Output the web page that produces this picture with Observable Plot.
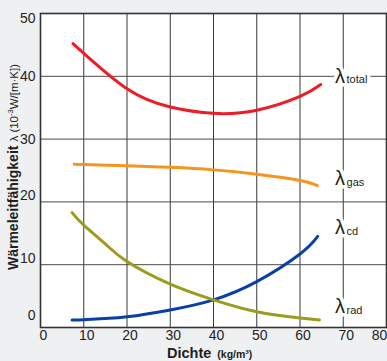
<!DOCTYPE html>
<html>
<head>
<meta charset="utf-8">
<script src="https://cdn.jsdelivr.net/npm/d3@7"></script>
<script src="https://cdn.jsdelivr.net/npm/@observablehq/plot@0.6"></script>
<style>
  html, body { margin: 0; padding: 0; background: #eff0f2; }
  #chart svg { display: block; }
</style>
</head>
<body>
<div id="chart"></div>
<script>
// Data
const totalX = [7.5, 20, 30, 40, 50, 60, 64.8];
const totalY = [45.2, 38.0, 35.1, 34.1, 34.6, 36.8, 38.7];
const gasX = [7.8, 10, 20, 30, 40, 50, 60, 64];
const gasY = [26.0, 25.95, 25.75, 25.5, 25.1, 24.4, 23.4, 22.6];
const cdX = [7.3, 10, 15, 20, 30, 40, 50, 60, 64.1];
const cdY = [1.2, 1.25, 1.45, 1.7, 2.8, 4.4, 7.3, 11.7, 14.5];
const radX = [7.3, 10, 15, 20, 30, 40, 50, 60, 64.5];
const radY = [18.3, 16.3, 13.3, 10.5, 6.9, 4.4, 2.5, 1.5, 1.2];

const xTicks = [0, 10, 20, 30, 40, 50, 60, 70, 80];
const yTicks = [0, 10, 20, 30, 40, 50];
const gridX = [10, 20, 30, 40, 50, 60, 70];
const gridY = [10, 20, 30, 40];

const labelNames = ["total", "gas", "cd", "rad"];
const labelX = [68.1, 68.1, 68.1, 68.1];
const labelY = [40, 23.7, 15.9, 3.3];

const zip = (xs, ys) => xs.map((x, i) => ({x, y: ys[i]}));
const series = [
  {data: zip(totalX, totalY), color: "#ee1d25"},
  {data: zip(gasX, gasY), color: "#f7941d"},
  {data: zip(cdX, cdY), color: "#0a3fa3"},
  {data: zip(radX, radY), color: "#9b9b1c"}
];
const labels = labelNames.map((n, i) => ({n, x: labelX[i], y: labelY[i]}));

const font = "'Liberation Sans', Arial, Helvetica, sans-serif";
const ink = "#231f20";

const plot = Plot.plot({
  width: 387,
  height: 361,
  marginLeft: 40,
  marginRight: 1,
  marginTop: 13,
  marginBottom: 34,
  style: {fontFamily: font, background: "transparent", overflow: "visible"},
  x: {domain: [0, 80], axis: null},
  y: {domain: [0, 50], axis: null},
  marks: [
    Plot.frame({fill: "white", stroke: "none"}),
    Plot.ruleX(gridX, {stroke: "#3a3a3a", strokeWidth: 1}),
    Plot.ruleY(gridY, {stroke: "#4a4a4a", strokeWidth: 1}),
    ...series.map(s => Plot.line(s.data, {x: "x", y: "y", stroke: s.color, strokeWidth: 3, curve: "natural"})),
    Plot.frame({stroke: "#333", strokeWidth: 1.6}),
    // y tick labels
    Plot.text(yTicks.filter(d => d === 50), {x: 0, y: d => d, text: d => String(d), textAnchor: "end", dx: -5, dy: 5, fontSize: 14, fill: ink}),
    Plot.text(yTicks.filter(d => d === 30 || d === 40), {x: 0, y: d => d, text: d => String(d), textAnchor: "end", dx: -5, dy: 0, fontSize: 14, fill: ink}),
    Plot.text(yTicks.filter(d => d === 10 || d === 20), {x: 0, y: d => d, text: d => String(d), textAnchor: "end", dx: -5, dy: -6, fontSize: 14, fill: ink}),
    Plot.text(yTicks.filter(d => d === 0), {x: 0, y: d => d, text: d => String(d), textAnchor: "end", dx: -5, dy: -12, fontSize: 14, fill: ink}),
    // x tick labels
    Plot.text(xTicks.filter(d => d < 80), {x: d => d, y: 0, text: d => String(d), lineAnchor: "top", dx: 3, dy: 3, fontSize: 14, fill: ink}),
    Plot.text(xTicks.filter(d => d === 80), {x: d => d, y: 0, text: d => String(d), lineAnchor: "top", dx: -7, dy: 3, fontSize: 14, fill: ink}),
    // curve labels: lambda + subscript with white halo
    Plot.text(labels, {x: "x", y: "y", text: () => "λ", textAnchor: "start", lineAnchor: "middle", fontSize: 20, fill: "white", stroke: "white", strokeWidth: 7}),
    Plot.text(labels, {x: "x", y: "y", text: "n", textAnchor: "start", lineAnchor: "middle", dx: 11.5, dy: 3.5, fontSize: 11, fill: ink, stroke: "white", strokeWidth: 7}),
    Plot.text(labels, {x: "x", y: "y", text: () => "λ", textAnchor: "start", lineAnchor: "middle", fontSize: 20, fill: ink})
  ]
});

const svg = d3.select(plot);
// y-axis title
const yt = svg.append("text")
  .attr("transform", "translate(17.5,167) rotate(-90)")
  .attr("text-anchor", "middle")
  .attr("font-family", font)
  .attr("fill", ink);
yt.append("tspan").attr("font-weight", "bold").attr("font-size", 14).text("Wärmeleitfähigkeit");
yt.append("tspan").attr("font-size", 11.5).attr("dx", 4).text("λ (10");
yt.append("tspan").attr("font-size", 7.5).attr("dy", -4.5).text("-3");
yt.append("tspan").attr("font-size", 11.5).attr("dy", 4.5).text("W/[m·K])");
// x-axis title
const xt = svg.append("text")
  .attr("x", 167).attr("y", 358)
  .attr("text-anchor", "start")
  .attr("font-family", font)
  .attr("font-weight", "bold")
  .attr("fill", ink);
xt.append("tspan").attr("font-size", 14.5).text("Dichte");
xt.append("tspan").attr("font-size", 10.5).attr("dx", 6).text("(kg/m³)");

document.getElementById("chart").appendChild(plot);
</script>
</body>
</html>
